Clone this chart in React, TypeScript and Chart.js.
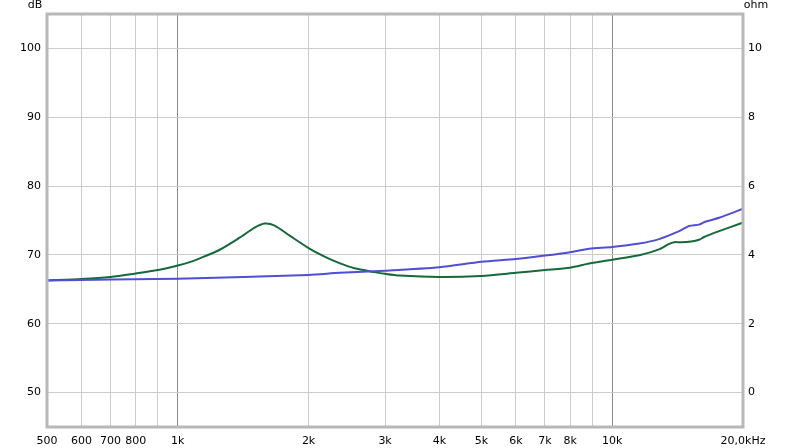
import React, { useEffect, useRef } from "react";
import { Chart, registerables } from "chart.js";

Chart.register(...registerables);

// Green curve
const greenFreq = [500, 600, 700, 800, 900, 1000, 1066, 1124, 1249, 1388, 1503, 1585, 1671, 1809, 2000, 2177, 2357, 2552, 2836, 3000, 3238, 4000, 5000, 6000, 7000, 8000, 8850, 10000, 11540, 12820, 13520, 13880, 14260, 15030, 15850, 16270, 17620, 20000];
const greenDb = [66.3, 66.5, 66.8, 67.3, 67.8, 68.45, 68.95, 69.5, 70.75, 72.5, 73.95, 74.55, 74.25, 72.8, 71.0, 69.75, 68.8, 68.05, 67.5, 67.25, 67.0, 66.8, 66.95, 67.4, 67.8, 68.15, 68.75, 69.3, 69.95, 70.8, 71.6, 71.85, 71.85, 71.9, 72.2, 72.6, 73.45, 74.7];

// Blue curve
const blueFreq = [500, 1000, 2000, 2357, 3000, 4000, 5000, 6000, 7000, 8000, 8850, 10000, 11540, 12820, 14260, 15030, 15850, 16270, 17620, 20000];
const blueDb = [66.3, 66.55, 67.1, 67.4, 67.7, 68.2, 69.0, 69.4, 69.9, 70.4, 70.9, 71.15, 71.65, 72.3, 73.45, 74.2, 74.4, 74.75, 75.4, 76.7];

const xTicks = [500, 600, 700, 800, 900, 1000, 2000, 3000, 4000, 5000, 6000, 7000, 8000, 9000, 10000, 20000];
const xLabels: Record<number, string> = {
  500: "500", 600: "600", 700: "700", 800: "800", 900: "", 1000: "1k", 2000: "2k", 3000: "3k",
  4000: "4k", 5000: "5k", 6000: "6k", 7000: "7k", 8000: "8k", 9000: "", 10000: "10k", 20000: "20,0kHz",
};
const dbTicks = [50, 60, 70, 80, 90, 100];
const ohmTicks = [0, 2, 4, 6, 8, 10];

const FONT = "'DejaVu Sans', sans-serif";

export default function App() {
  const ref = useRef<HTMLCanvasElement>(null);
  useEffect(() => {
    const frame = {
      id: "frame",
      afterDraw(chart: any) {
        const { ctx, chartArea: a } = chart;
        ctx.save();
        ctx.strokeStyle = "#b8b8b8";
        ctx.lineWidth = 3;
        ctx.strokeRect(a.left, a.top, a.right - a.left, a.bottom - a.top);
        ctx.fillStyle = "#000";
        ctx.font = "11px " + FONT;
        ctx.textBaseline = "middle";
        ctx.textAlign = "center";
        ctx.fillText("dB", 35, 5);
        ctx.fillText("ohm", 756, 5);
        ctx.restore();
      },
    };
    const chart = new Chart(ref.current!, {
      type: "line",
      data: {
        datasets: [
          {
            label: "blue",
            data: blueFreq.map((f, i) => ({ x: f, y: blueDb[i] })),
            borderColor: "#4f4fd2",
            borderWidth: 2,
            pointRadius: 0,
            tension: 0.25,
            yAxisID: "y",
          },
          {
            label: "green",
            data: greenFreq.map((f, i) => ({ x: f, y: greenDb[i] })),
            borderColor: "#16693a",
            borderWidth: 2,
            pointRadius: 0,
            tension: 0.25,
            yAxisID: "y",
          },
        ],
      },
      plugins: [frame],
      options: {
        animation: false,
        responsive: false,
        maintainAspectRatio: false,
        layout: { padding: { top: 14, left: 0, right: 0, bottom: 0 } },
        plugins: { legend: { display: false }, tooltip: { enabled: false } },
        scales: {
          x: {
            type: "logarithmic",
            min: 500,
            max: 20000,
            afterBuildTicks: (s: any) => { s.ticks = xTicks.map((v) => ({ value: v })); },
            afterFit: (s: any) => { s.height = 21; },
            border: { display: false },
            grid: {
              drawTicks: false,
              color: (c: any) => (c.tick && (c.tick.value === 1000 || c.tick.value === 10000) ? "#8a8a8a" : "#cccccc"),
            },
            ticks: {
              autoSkip: false,
              maxRotation: 0,
              padding: 8,
              color: "#000",
              font: { family: FONT, size: 11 },
              callback: (v: any) => xLabels[v as number] ?? "",
            },
          },
          y: {
            type: "linear",
            position: "left",
            min: 45,
            max: 105,
            afterBuildTicks: (s: any) => { s.ticks = dbTicks.map((v) => ({ value: v })); },
            afterFit: (s: any) => { s.width = 47; },
            border: { display: false },
            grid: { drawTicks: false, color: "#cccccc" },
            ticks: { padding: 6, color: "#000", font: { family: FONT, size: 11 } },
          },
          y2: {
            type: "linear",
            position: "right",
            min: -1,
            max: 11,
            afterBuildTicks: (s: any) => { s.ticks = ohmTicks.map((v) => ({ value: v })); },
            afterFit: (s: any) => { s.width = 57; },
            border: { display: false },
            grid: { display: false, drawTicks: false },
            ticks: { padding: 5, color: "#000", font: { family: FONT, size: 11 } },
          },
        },
      },
    } as any);
    return () => chart.destroy();
  }, []);
  return (
    <div style={{ position: "absolute", left: 0, top: 0, width: 800, height: 448, background: "#fff" }}>
      <canvas ref={ref} width={800} height={448} />
    </div>
  );
}
